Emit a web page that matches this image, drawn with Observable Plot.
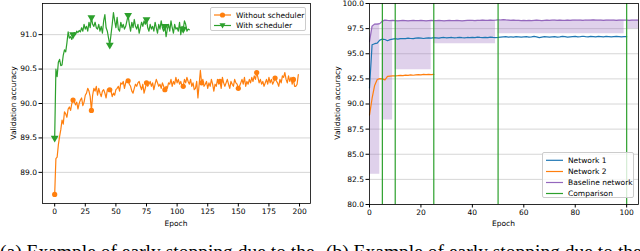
<!DOCTYPE html>
<html><head><meta charset="utf-8">
<script src="https://cdn.jsdelivr.net/npm/d3@7"></script>
<script src="https://cdn.jsdelivr.net/npm/@observablehq/plot@0.6"></script>
<style>
html,body{margin:0;padding:0;background:#fff;overflow:hidden}
#wrap{position:relative;width:640px;height:251px;font-family:"DejaVu Sans",sans-serif;color:#000;overflow:hidden}
.panel{position:absolute;top:0}
.ylab{position:absolute;font-size:7.5px;transform:translate(-50%,-50%) rotate(-90deg);white-space:nowrap}
.xlab{position:absolute;font-size:7.5px;transform:translate(-50%,-50%);white-space:nowrap}
.cap{position:absolute;font-family:"Liberation Serif",serif;font-size:19.5px;line-height:1;white-space:nowrap;top:242px}
.legend{position:absolute;background:rgba(255,255,255,0.8);border:0.8px solid #ccc;border-radius:2px;box-sizing:border-box}
.legend svg{position:absolute;left:0;top:0;overflow:visible}
</style></head>
<body><div id="wrap"></div>
<script>
// ---------- Panel (a) data ----------
const withoutScheduler = [
 88.68, 89.20, 89.22, 89.40, 89.52, 89.62, 89.76, 89.70, 89.88, 89.85,
 89.80, 89.92, 89.95, 89.90, 90.00, 90.05, 90.03, 89.98, 90.02, 89.92,
 90.00, 90.05, 90.08, 89.97, 90.02, 90.12, 90.15, 90.22, 90.18, 90.10,
 89.90, 90.12, 90.22, 90.18, 90.25, 90.12, 90.22, 90.15, 90.10, 90.18,
 90.20, 90.15, 90.08, 90.20, 90.22, 90.20, 90.18, 90.10, 90.15, 90.12,
 90.20, 90.22, 90.25, 90.18, 90.30, 90.28, 90.32, 90.22, 90.30, 90.35,
 90.33, 90.28, 90.25, 90.18, 90.15, 90.22, 90.28, 90.25, 90.30, 90.32,
 90.25, 90.20, 90.28, 90.15, 90.22, 90.30, 90.25, 90.28, 90.32, 90.25,
 90.30, 90.20, 90.28, 90.35, 90.30, 90.25, 90.28, 90.22, 90.30, 90.25,
 90.20, 90.25, 90.22, 90.30, 90.28, 90.35, 90.25, 90.32, 90.28, 90.38,
 90.30, 90.35, 90.28, 90.32, 90.25, 90.25, 90.35, 90.30, 90.38, 90.32,
 90.28, 90.35, 90.25, 90.30, 90.20, 90.22, 90.32, 90.08, 90.28, 90.48,
 90.30, 90.35, 90.25, 90.28, 90.32, 90.22, 90.30, 90.25, 90.35, 90.28,
 90.18, 90.28, 90.25, 90.35, 90.28, 90.32, 90.22, 90.38, 90.30, 90.25,
 90.30, 90.35, 90.28, 90.22, 90.32, 90.28, 90.25, 90.35, 90.30, 90.28,
 90.22, 90.25, 90.30, 90.35, 90.28, 90.38, 90.25, 90.32, 90.28, 90.35,
 90.30, 90.38, 90.32, 90.40, 90.35, 90.45, 90.38, 90.30, 90.35, 90.28,
 90.32, 90.25, 90.30, 90.35, 90.28, 90.38, 90.30, 90.35, 90.28, 90.32,
 90.37, 90.33, 90.30, 90.25, 90.35, 90.30, 90.40, 90.38, 90.45, 90.35,
 90.30, 90.40, 90.32, 90.38, 90.28, 90.35, 90.25, 90.25, 90.28, 90.42
];
const withScheduler = [
 89.50, 90.50, 90.39, 90.60, 90.64, 90.55, 90.56, 90.70, 90.78, 90.75,
 90.88, 91.04, 90.95, 90.97, 90.93, 91.00, 91.03, 91.00, 91.05, 91.03,
 91.06, 91.04, 91.10, 91.05, 91.15, 91.08, 91.12, 91.05, 91.18, 91.10,
 91.25, 91.15, 91.12, 91.18, 91.10, 91.08, 91.15, 91.05, 91.12, 91.02,
 91.20, 91.29, 91.10, 91.05, 90.95, 90.85, 91.00, 91.15, 91.32, 91.20,
 91.10, 91.25, 91.08, 91.05, 91.18, 91.10, 91.15, 91.08, 91.12, 91.20,
 91.28, 91.15, 91.05, 91.18, 91.10, 91.22, 91.12, 91.08, 91.15, 91.02,
 91.10, 91.18, 91.12, 91.20, 91.15, 91.22, 91.10, 91.05, 91.15, 91.08,
 91.12, 91.05, 91.18, 91.10, 91.02, 91.15, 91.08, 91.20, 91.10, 91.05,
 91.12, 90.97, 91.08, 91.15, 91.05, 91.20, 91.10, 91.02, 91.15, 91.08,
 91.10, 91.05, 91.18, 91.00, 91.12, 91.08, 91.20, 91.15, 91.05, 91.08,
 91.07
];
const xTicksA = [0, 25, 50, 75, 100, 125, 150, 175, 200];
const yTicksA = [89.0, 89.5, 90.0, 90.5, 91.0];
const seriesA = ["Without scheduler", "With scheduler"];
const markEvery = 15;

// ---------- Panel (b) data ----------
const network1 = [
 91.6, 95.9, 96.0, 96.05, 96.35, 96.45, 96.42, 96.3, 96.4, 96.45,
 96.5, 96.45, 96.5, 96.52, 96.5, 96.55, 96.52, 96.5, 96.55, 96.58,
 96.55, 96.52, 96.56, 96.58, 96.55, 96.6, 96.58, 96.55, 96.6, 96.62,
 96.58, 96.6, 96.62, 96.58, 96.6, 96.63, 96.6, 96.58, 96.62, 96.6,
 96.63, 96.6, 96.65, 96.62, 96.6, 96.63, 96.6, 96.65, 96.62, 96.6,
 96.62, 96.65, 96.68, 96.7, 96.66, 96.68, 96.65, 96.7, 96.68, 96.65,
 96.68, 96.7, 96.66, 96.68, 96.72, 96.68, 96.6, 96.66, 96.7, 96.68,
 96.65, 96.68, 96.7, 96.66, 96.68, 96.72, 96.7, 96.66, 96.68, 96.7,
 96.72, 96.68, 96.7, 96.74, 96.7, 96.68, 96.72, 96.7, 96.68, 96.72,
 96.7, 96.68, 96.72, 96.7, 96.68, 96.7, 96.72, 96.7, 96.68, 96.7,
 96.7
];
const network2 = [
 88.9, 90.55, 91.85, 92.44, 92.52, 92.5, 92.4, 92.74, 92.78, 92.8,
 92.8, 92.82, 92.85, 92.82, 92.88, 92.85, 92.9, 92.86, 92.9, 92.92,
 92.9, 92.95, 92.92, 92.95, 92.93, 92.95
];
const baseline = [
 96.2, 97.75, 97.95, 97.95, 98.0, 98.25, 98.35, 98.32, 98.3, 98.32,
 98.3, 98.28, 98.3, 98.32, 98.3, 98.28, 98.3, 98.32, 98.3, 98.3,
 98.32, 98.3, 98.28, 98.3, 98.32, 98.3, 98.3, 98.32, 98.3, 98.28,
 98.3, 98.32, 98.3, 98.3, 98.32, 98.3, 98.28, 98.3, 98.32, 98.33,
 98.32, 98.3, 98.33, 98.32, 98.35, 98.33, 98.32, 98.35, 98.33, 98.35,
 98.38, 98.36, 98.4, 98.37, 98.35, 98.33, 98.35, 98.32, 98.33, 98.3,
 98.32, 98.3, 98.32, 98.3, 98.32, 98.34, 98.32, 98.3, 98.32, 98.34,
 98.32, 98.34, 98.35, 98.33, 98.35, 98.33, 98.32, 98.35, 98.33, 98.35,
 98.36, 98.34, 98.35, 98.33, 98.36, 98.34, 98.35, 98.38, 98.35, 98.34,
 98.35, 98.33, 98.35, 98.36, 98.34, 98.35, 98.33, 98.35, 98.36, 98.34,
 98.35, 98.33, 98.35, 98.34, 98.35, 98.34
];
const comparisonEpochs = [5, 10, 25, 50, 100];
const bandStart = [0, 5, 10, 25, 50, 100];
const bandEnd   = [4, 9, 24, 49, 99, 105];
const bandLow   = [83.0, 88.4, 93.4, 96.0, 97.0, 97.5];
const xTicksB = [0, 20, 40, 60, 80, 100];
const yTicksB = [80, 82.5, 85, 87.5, 90, 92.5, 95, 97.5, 100];
const seriesB = ["Network 1", "Network 2", "Baseline network", "Comparison"];

const C = {blue: "#1f77b4", orange: "#ff7f0e", green: "#2ca02c", purple: "#9467bd"};

const toRows = arr => arr.map((acc, epoch) => ({epoch, acc}));
const wrap = document.getElementById("wrap");
const style = {fontFamily: "DejaVu Sans", fontSize: "7.5px", color: "#000", background: "transparent", overflow: "visible"};
const fmt = d3.format(".1f");

// ---------- Panel (a) ----------
const rowsNo = toRows(withoutScheduler);
const rowsSch = toRows(withScheduler);
const plotA = Plot.plot({
  width: 320, height: 230,
  marginLeft: 42, marginRight: 10, marginTop: 3, marginBottom: 27,
  style,
  x: {domain: [-9.95, 208.95]},
  y: {domain: [88.548, 91.452]},
  marks: [
    Plot.gridY(yTicksA, {stroke: "#cccccc", strokeOpacity: 1, strokeWidth: 0.8}),
    Plot.line(rowsNo, {x: "epoch", y: "acc", stroke: C.orange, strokeWidth: 1.2}),
    Plot.dot(rowsNo.filter(d => d.epoch % markEvery === 0), {x: "epoch", y: "acc", fill: C.orange, r: 2.6}),
    Plot.line(rowsSch, {x: "epoch", y: "acc", stroke: C.green, strokeWidth: 1.2}),
    Plot.dot(rowsSch.filter(d => d.epoch % markEvery === 0), {x: "epoch", y: "acc", fill: C.green, symbol: "triangle", rotate: 180, r: 2.9}),
    Plot.axisX({ticks: xTicksA, tickSize: 3.5, tickPadding: 2, label: null}),
    Plot.axisY({ticks: yTicksA, tickFormat: fmt, tickSize: 3.5, tickPadding: 2, label: null}),
    Plot.frame({stroke: "#000", strokeWidth: 0.8})
  ]
});
plotA.classList.add("panel"); plotA.style.left = "0px";
wrap.appendChild(plotA);

// ---------- Panel (b) ----------
const bandRows = [];
bandStart.forEach((s, i) => {
  for (let e = s; e <= bandEnd[i] && e < baseline.length; e++) {
    bandRows.push({epoch: e, low: bandLow[i], high: baseline[e], seg: i});
  }
});
const plotB = Plot.plot({
  width: 320, height: 230,
  marginLeft: 49, marginRight: 2, marginTop: 3, marginBottom: 26,
  style,
  x: {domain: [0, 104.6]},
  y: {domain: [80, 100]},
  marks: [
    Plot.gridY(yTicksB, {stroke: "#cccccc", strokeOpacity: 1, strokeWidth: 0.8}),
    Plot.areaY(bandRows, {x: "epoch", y1: "low", y2: "high", z: "seg", fill: C.purple, fillOpacity: 0.3, clip: true}),
    Plot.line(toRows(network1), {x: "epoch", y: "acc", stroke: C.blue, strokeWidth: 1.2}),
    Plot.line(toRows(network2), {x: "epoch", y: "acc", stroke: C.orange, strokeWidth: 1.2}),
    Plot.line(toRows(baseline), {x: "epoch", y: "acc", stroke: C.purple, strokeWidth: 1.2, clip: true}),
    Plot.ruleX(comparisonEpochs, {stroke: C.green, strokeWidth: 1.2}),
    Plot.axisX({ticks: xTicksB, tickSize: 3.5, tickPadding: 2, label: null}),
    Plot.axisY({ticks: yTicksB, tickFormat: fmt, tickSize: 3.5, tickPadding: 2, label: null}),
    Plot.frame({stroke: "#000", strokeWidth: 0.8})
  ]
});
plotB.classList.add("panel"); plotB.style.left = "320px";
wrap.appendChild(plotB);

// ---------- axis titles ----------
function addText(cls, text, x, y) {
  const d = document.createElement("div");
  d.className = cls; d.textContent = text;
  d.style.left = x + "px"; d.style.top = y + "px";
  wrap.appendChild(d);
}
addText("xlab", "Epoch", 176, 223);
addText("xlab", "Epoch", 503.5, 223);
addText("ylab", "Validation accuracy", 12.5, 103);
addText("ylab", "Validation accuracy", 336.5, 103);

// ---------- legends ----------
const NS = "http://www.w3.org/2000/svg";
function legend(x, y, w, h, items, rowY) {
  const box = document.createElement("div");
  box.className = "legend";
  Object.assign(box.style, {left: x + "px", top: y + "px", width: w + "px", height: h + "px"});
  const svg = document.createElementNS(NS, "svg");
  svg.setAttribute("width", w); svg.setAttribute("height", h);
  items.forEach((it, i) => {
    const cy = rowY[i];
    const ln = document.createElementNS(NS, "line");
    ln.setAttribute("x1", 3); ln.setAttribute("x2", 20); ln.setAttribute("y1", cy); ln.setAttribute("y2", cy);
    ln.setAttribute("stroke", it.color); ln.setAttribute("stroke-width", 1.2);
    svg.appendChild(ln);
    if (it.marker === "circle") {
      const c = document.createElementNS(NS, "circle");
      c.setAttribute("cx", 11.5); c.setAttribute("cy", cy); c.setAttribute("r", 2.6); c.setAttribute("fill", it.color);
      svg.appendChild(c);
    } else if (it.marker === "tri") {
      const p = document.createElementNS(NS, "path");
      p.setAttribute("d", `M${11.5-3},${cy-2.2}L${11.5+3},${cy-2.2}L11.5,${cy+3}Z`);
      p.setAttribute("fill", it.color);
      svg.appendChild(p);
    }
    const t = document.createElementNS(NS, "text");
    t.setAttribute("x", 25); t.setAttribute("y", cy); t.setAttribute("dy", "0.35em");
    t.setAttribute("font-family", "DejaVu Sans"); t.setAttribute("font-size", "7.5px");
    t.textContent = it.label;
    svg.appendChild(t);
  });
  box.appendChild(svg);
  wrap.appendChild(box);
}
legend(210, 7, 96, 24,
  [{label: seriesA[0], color: C.orange, marker: "circle"}, {label: seriesA[1], color: C.green, marker: "tri"}],
  [7, 17.5]);
legend(542, 152, 92, 46,
  [{label: seriesB[0], color: C.blue}, {label: seriesB[1], color: C.orange}, {label: seriesB[2], color: C.purple}, {label: seriesB[3], color: C.green}],
  [7.3, 18.5, 29.5, 40.5]);

// ---------- captions ----------
const capA = document.createElement("div");
capA.className = "cap"; capA.style.left = "0px";
capA.textContent = "(a) Example of early stopping due to the";
wrap.appendChild(capA);
const capB = document.createElement("div");
capB.className = "cap"; capB.style.left = "326px";
capB.textContent = "(b) Example of early stopping due to the";
wrap.appendChild(capB);
</script>
</body></html>
